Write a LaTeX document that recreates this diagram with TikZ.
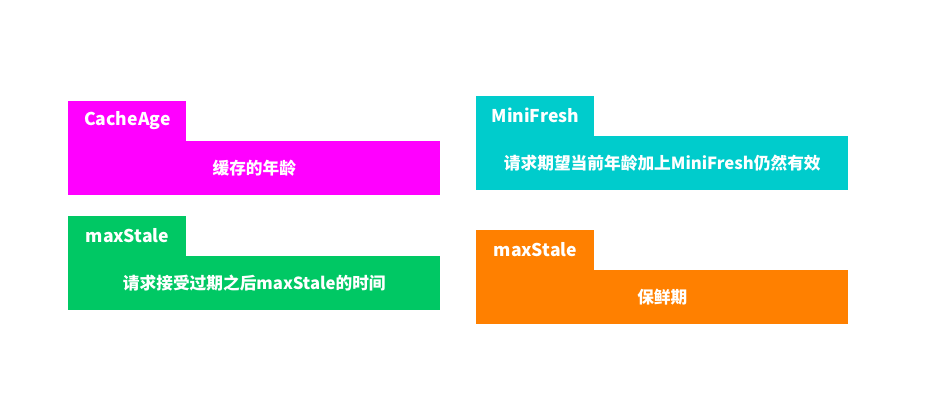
\documentclass[tikz,border=0pt]{standalone}
\usepackage{fontspec}
\setmainfont{Noto Sans CJK SC}
\usetikzlibrary{positioning}
\definecolor{cMag}{HTML}{FF00FF}
\definecolor{cGreen}{HTML}{00C864}
\definecolor{cCyan}{HTML}{00CCCC}
\definecolor{cOrange}{HTML}{FF8000}
\tikzset{
  body/.style={fill=#1, text=white, font=\fontsize{9.5}{11}\selectfont\bfseries, minimum width=7.44cm, minimum height=1.08cm, anchor=north west, inner sep=0pt},
  tab/.style={fill=#1, text=white, font=\fontsize{10}{12}\selectfont\bfseries, minimum width=2.36cm, minimum height=0.8cm, anchor=south west, inner sep=0pt}
}
\begin{document}
\begin{tikzpicture}[x=0.02cm,y=-0.02cm]
        \useasboundingbox (0,0) rectangle (940,408);
        \node[body=cMag] (age) at (68,141) {缓存的年龄};
        \node[tab=cMag] (ageTab) at (age.north west) {CacheAge};
        \node[body=cGreen] (stale) at (68,256) {请求接受过期之后maxStale的时间};
        \node[tab=cGreen] (staleTab) at (stale.north west) {maxStale};
        \node[body=cCyan] (fresh) at (476,136) {请求期望当前年龄加上MiniFresh仍然有效};
        \node[tab=cCyan] (freshTab) at (fresh.north west) {MiniFresh};
        \node[body=cOrange] (keep) at (476,270) {保鲜期};
        \node[tab=cOrange] (keepTab) at (keep.north west) {maxStale};
      \end{tikzpicture}
\end{document}
